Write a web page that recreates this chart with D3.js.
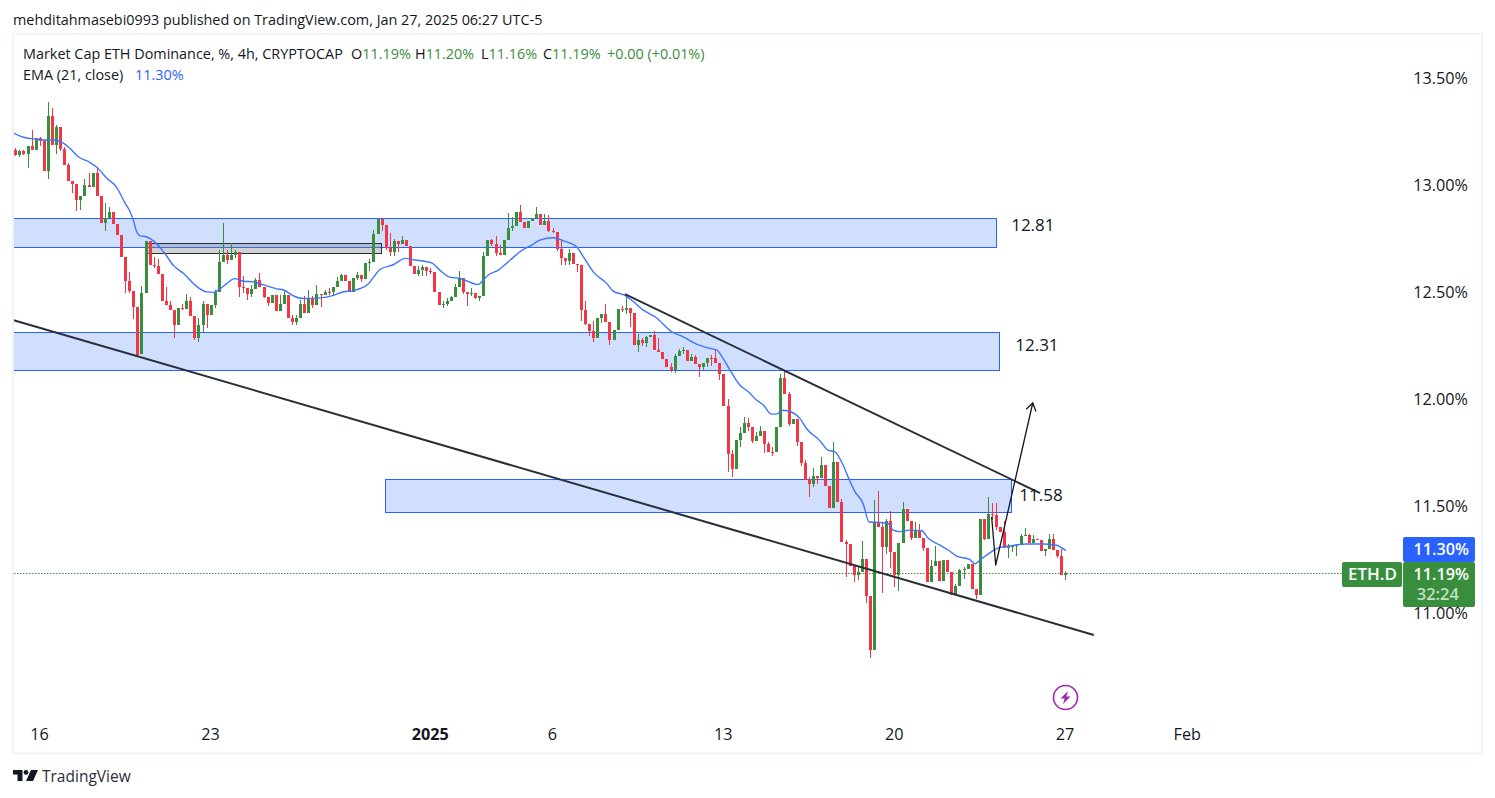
<!DOCTYPE html>
<html><head><meta charset="utf-8">
<script src="https://cdn.jsdelivr.net/npm/d3@7/dist/d3.min.js"></script>
<style>html,body{margin:0;padding:0;background:#fff}svg{display:block}text{font-family:"Open Sans",Roboto,sans-serif}</style>
</head><body><svg id="c" width="1495" height="798"></svg>
<script>
const n=null;
const opens=[13.169,13.145,13.162,13.150,13.187,13.169,13.225,13.212,13.070,13.327,
13.192,13.276,13.173,13.098,13.024,13.010,12.935,12.954,13.005,12.996,
13.061,12.954,12.827,12.851,12.879,12.823,12.771,12.668,12.556,12.510,
12.435,12.215,12.500,12.743,12.631,12.628,12.589,12.463,12.444,12.421,
12.349,12.430,12.426,12.463,12.393,12.288,12.351,12.449,12.397,12.444,
12.506,12.645,12.678,12.654,12.678,12.692,12.528,12.524,12.495,12.519,
12.561,12.528,12.481,12.453,12.491,12.416,12.449,12.491,12.383,12.365,
12.383,12.449,12.407,12.472,12.444,12.495,12.491,12.505,12.503,12.528,
12.556,12.584,12.556,12.505,12.570,12.584,12.565,12.640,12.646,12.775,
12.845,12.817,12.711,12.691,12.743,12.729,12.747,12.719,12.626,12.588,
12.607,12.621,12.602,12.600,12.504,12.444,12.448,12.462,12.481,12.528,
12.570,12.504,12.495,12.500,12.476,12.486,12.672,12.747,12.729,12.687,
12.677,12.747,12.803,12.813,12.878,12.831,12.803,12.836,12.850,12.869,
12.817,12.836,12.789,12.784,12.705,12.663,12.649,12.687,12.635,12.632,
12.420,12.355,12.322,12.289,12.383,12.401,12.364,12.280,12.327,12.425,
12.422,12.429,12.406,12.257,12.280,12.266,12.294,12.303,12.233,12.224,
12.191,12.154,12.140,12.205,12.228,12.233,12.182,12.200,12.168,12.154,
12.172,12.196,12.195,12.173,12.121,11.972,11.747,11.677,11.813,11.846,
11.892,11.874,11.808,11.832,11.855,11.794,11.757,11.755,11.874,12.103,
12.028,11.888,11.911,11.804,11.705,11.626,11.607,11.645,11.635,11.696,
11.598,11.495,11.710,11.523,11.336,11.327,11.224,11.182,11.196,11.257,
11.084,10.831,11.430,11.406,11.313,11.434,11.289,11.182,11.331,11.491,
11.434,11.355,11.388,11.355,11.308,11.150,11.224,11.247,11.154,11.252,
11.196,11.089,11.131,11.205,11.210,11.234,11.117,11.089,11.444,11.350,
11.467,11.462,11.406,11.383,11.310,11.316,11.319,11.324,11.364,11.369,
11.332,11.350,11.346,11.294,11.304,11.350,11.299,11.271,11.182];
const closes=[13.145,13.162,13.150,13.187,13.169,13.225,13.212,13.070,13.327,13.192,
13.276,13.173,13.098,13.024,13.010,12.935,12.954,13.005,12.996,13.061,
12.954,12.827,12.851,12.879,12.823,12.771,12.668,12.556,12.510,12.435,
12.210,12.500,12.743,12.631,12.628,12.589,12.463,12.444,12.421,12.351,
12.430,12.426,12.463,12.393,12.288,12.351,12.449,12.397,12.444,12.506,
12.645,12.678,12.654,12.678,12.692,12.528,12.524,12.495,12.519,12.561,
12.528,12.481,12.453,12.491,12.416,12.449,12.491,12.383,12.365,12.383,
12.449,12.407,12.472,12.444,12.495,12.491,12.505,12.503,12.528,12.556,
12.584,12.556,12.505,12.570,12.584,12.565,12.640,12.646,12.775,12.845,
12.817,12.711,12.691,12.743,12.729,12.747,12.719,12.626,12.588,12.607,
12.621,12.602,12.600,12.504,12.444,12.448,12.462,12.481,12.528,12.570,
12.504,12.495,12.500,12.476,12.486,12.672,12.747,12.729,12.687,12.677,
12.747,12.803,12.813,12.878,12.831,12.803,12.836,12.850,12.869,12.817,
12.836,12.789,12.784,12.705,12.663,12.649,12.687,12.635,12.632,12.420,
12.355,12.322,12.289,12.383,12.401,12.364,12.280,12.327,12.425,12.422,
12.429,12.406,12.257,12.280,12.266,12.294,12.303,12.233,12.224,12.191,
12.154,12.140,12.205,12.228,12.233,12.182,12.200,12.168,12.154,12.172,
12.196,12.195,12.173,12.121,11.972,11.747,11.677,11.813,11.846,11.892,
11.874,11.808,11.832,11.855,11.794,11.757,11.755,11.874,12.103,12.028,
11.888,11.911,11.804,11.705,11.626,11.607,11.645,11.635,11.696,11.598,
11.495,11.710,11.523,11.336,11.327,11.224,11.182,11.196,11.257,11.084,
10.831,11.430,11.406,11.313,11.434,11.289,11.182,11.331,11.491,11.434,
11.355,11.388,11.355,11.308,11.150,11.224,11.247,11.154,11.252,11.196,
11.089,11.131,11.205,11.210,11.234,11.117,11.089,11.444,11.350,11.467,
11.462,11.406,11.383,11.310,11.316,11.319,11.324,11.364,11.369,11.332,
11.350,11.346,11.294,11.304,11.350,11.299,11.271,11.182,11.190];
const highs=[13.176,13.169,13.169,n,13.262,n,13.231,13.215,13.393,13.365,
13.285,n,13.181,13.108,n,n,n,13.033,13.061,n,
13.089,n,12.921,12.902,n,n,n,n,12.598,n,
n,12.533,n,n,12.670,12.659,n,12.528,12.463,n,
n,12.449,12.496,12.481,n,12.383,12.463,n,n,12.514,
12.701,12.827,12.701,12.732,12.701,n,12.580,n,12.538,12.570,
12.594,n,n,n,n,12.491,12.514,n,12.397,12.397,
12.467,12.486,12.514,12.486,12.538,n,12.514,12.524,n,12.575,
12.589,n,n,n,12.598,n,n,12.658,12.794,n,
n,n,12.780,12.752,n,12.766,n,n,n,12.626,
12.630,n,12.616,n,n,12.462,12.476,12.486,12.542,12.602,
n,n,12.523,n,n,12.691,n,12.752,12.766,12.724,
n,12.873,12.855,n,12.911,n,n,n,12.902,n,
12.869,12.864,12.803,n,12.752,n,12.705,n,n,n,
12.462,n,12.369,n,n,12.448,n,n,n,12.439,
12.495,n,n,12.308,12.289,12.299,n,12.322,12.289,n,
n,12.172,12.214,12.238,12.247,n,12.214,12.210,n,n,
n,12.210,12.234,n,n,12.005,11.766,n,11.874,11.920,
11.916,n,11.850,11.878,n,11.804,11.780,n,12.121,12.140,
12.037,n,n,n,11.720,11.640,11.682,n,11.734,n,
n,11.804,n,11.537,11.345,n,n,11.219,11.341,n,
n,11.533,11.575,11.430,11.444,11.481,n,n,11.523,n,
n,11.428,11.420,n,n,11.252,11.318,n,n,n,
n,11.140,11.210,11.220,n,n,n,n,n,11.547,
11.519,11.517,n,11.434,11.327,n,11.327,11.374,11.402,11.374,
11.369,n,n,n,11.374,11.374,n,11.304,11.20];
const lows=[13.141,13.137,13.144,13.086,n,n,13.187,n,13.033,n,
13.150,13.162,n,n,12.968,12.883,12.888,n,n,n,
n,n,12.790,n,n,n,n,12.500,12.500,12.379,
12.199,n,n,n,12.615,n,n,n,n,12.290,
n,12.421,n,n,12.280,12.271,12.312,12.337,n,12.430,
n,n,12.636,n,12.665,12.481,12.500,12.467,12.481,n,
n,12.477,12.439,n,n,n,n,n,12.351,12.351,
n,n,n,12.430,n,12.435,n,12.491,12.491,n,
n,n,n,n,12.561,12.551,n,12.602,n,n,
12.789,12.701,12.672,12.672,12.691,n,n,n,n,12.579,
12.579,12.579,12.588,n,n,12.429,12.439,n,n,n,
12.495,12.439,12.486,12.472,12.462,n,n,12.719,12.672,n,
n,n,12.789,n,n,n,n,n,n,n,
n,12.785,12.780,12.696,12.630,12.630,12.630,n,12.598,12.369,
12.350,12.299,12.271,n,12.359,n,12.256,n,n,12.411,
12.401,12.341,n,12.224,12.252,12.247,n,n,n,n,
n,12.130,12.126,n,12.214,n,n,n,12.107,12.140,
12.154,12.160,n,12.093,n,11.663,11.640,n,11.780,n,
11.855,11.799,n,n,11.752,n,11.738,n,n,n,
11.878,n,11.785,11.691,n,11.546,11.593,11.607,n,n,
n,n,n,n,11.173,n,11.149,11.159,n,11.051,
10.794,n,n,11.098,11.280,11.215,11.126,11.107,n,n,
11.346,n,n,11.294,n,n,n,n,n,n,
n,n,n,11.163,n,n,11.070,n,11.346,n,
11.439,11.392,n,n,11.262,11.290,11.271,n,n,n,
n,n,n,11.271,n,n,11.262,n,11.16];
const emaBars=[-0.6,2,4.4,6.9,9.3,11.8,13.4,15.5,18.4,20,22.5,24.9,27,28.2,29,29.8,30.7,32.1,34.8,36.4,38.9,41.3,44.6,47,48.7,50.3,52,53.9,56.1,58.5,61,64.3,65.9,68.4,70.8,74.9,78.2,80.7,83,
84.7,86.7,88,89.6,92.9,95.8,98.2,102.3,104.3,106.8,109.3,113.8,115,116.2,118.7,121.6,124,126.9,128.9,132.2,134.7,137.9,139.6,142,145.3,146.9,149.8,151.9,154.3,157.2,161.3,164.1,167.4,170.7,
172.3,173.9,175.6,178,180.1,182.1,183.8,185.8,187,188.7,190.7,192.8,194.4,197.7,199.7,201.4,203.4,204.6,206.3,208.3,209.8,212.4,214.5,215.7,217.3,219.8,222.7,224.3,227.2,229.2,231.3,234.5,235.8,237,239,241.9,244.4,248.5,252.5,255.8,258.1];
const emaValues=[13.246,13.228,13.220,13.215,13.215,13.200,13.176,13.137,13.109,13.088,13.036,12.994,12.919,12.880,12.841,12.787,12.767,12.763,12.729,12.693,12.628,12.592,12.530,12.505,12.503,12.519,12.545,12.567,12.555,12.552,12.538,12.519,12.514,12.486,12.474,12.477,12.489,12.506,12.510,
12.521,12.542,12.573,12.610,12.632,12.662,12.654,12.641,12.607,12.574,12.568,12.540,12.560,12.584,12.607,12.654,12.693,12.724,12.747,12.758,12.744,12.716,12.669,12.599,12.545,12.509,12.489,12.459,12.420,12.389,12.319,12.295,12.261,12.241,
12.234,12.195,12.140,12.070,12.039,12.000,11.977,11.934,11.934,11.952,11.944,11.914,11.867,11.810,11.766,11.758,11.696,11.642,11.572,11.517,11.430,11.428,11.423,11.392,11.385,11.392,11.389,11.354,11.322,11.299,11.271,11.255,11.234,11.252,11.280,11.311,11.318,11.327,11.327,11.321,11.296];
const bandTops=[12.849,12.315,11.627];
const bandBottoms=[12.714,12.138,11.472];
const bandStarts=[-0.6,-0.6,91];
const bandEnds=[241.2,241.9,244.9];
const bandLabels=["12.81","12.31","11.58"];
const bandLabelBars=[244.7,245.7,246.7];
const greyBox={bars:[32.4,90],prices:[12.730,12.686]};
const lineA={bars:[-0.6,265],prices:[12.374,10.902]};
const lineB={bars:[149.8,251.8],prices:[12.495,11.565]};
const arrow={bars:[239.9,240.9,250],prices:[11.455,11.229,11.986]};
const priceTicks=[13.5,13,12.5,12,11.5,11];
const timeTickBars=[6,48,102,132,174,216,258,288];
const timeTickLabels=["16","23","2025","6","13","20","27","Feb"];
const GREEN="#388e3c",RED="#f23645",BLUE="#2962ff",INK="#131722";

const svg=d3.select("#c");
const x=d3.scaleLinear().domain([0,258]).range([15.3,1065.3]);
const y=d3.scaleLinear().domain([13.5,11]).range([79,614]);

// bands
const bands=d3.range(3);
svg.append("g").selectAll("rect").data(bands).join("rect")
 .attr("x",i=>x(bandStarts[i])).attr("width",i=>x(bandEnds[i])-x(bandStarts[i]))
 .attr("y",i=>y(bandTops[i])).attr("height",i=>y(bandBottoms[i])-y(bandTops[i]))
 .attr("fill","#d1dffe").attr("stroke",BLUE).attr("stroke-width",1).attr("shape-rendering","crispEdges");
svg.append("rect").attr("x",x(greyBox.bars[0])).attr("width",x(greyBox.bars[1])-x(greyBox.bars[0]))
 .attr("y",y(greyBox.prices[0])).attr("height",y(greyBox.prices[1])-y(greyBox.prices[0]))
 .attr("fill","#787b86").attr("fill-opacity",.35).attr("stroke","#2a2e39").attr("stroke-width",1).attr("shape-rendering","crispEdges");

// last-price line
svg.append("line").attr("x1",14).attr("x2",1342).attr("y1",Math.round(y(11.19))+.5).attr("y2",Math.round(y(11.19))+.5)
 .attr("stroke",GREEN).attr("stroke-width",1.2).attr("stroke-dasharray","1.5 1.5");

// candles
const bars=d3.range(closes.length);
const col=i=>closes[i]>=opens[i]?GREEN:RED;
const cx=i=>Math.round(x(i));
const g=svg.append("g").attr("shape-rendering","crispEdges");
g.selectAll(".w").data(bars).join("rect").attr("class","w")
 .attr("x",i=>cx(i)).attr("width",1)
 .attr("y",i=>y(highs[i]??Math.max(opens[i],closes[i])))
 .attr("height",i=>y(lows[i]??Math.min(opens[i],closes[i]))-y(highs[i]??Math.max(opens[i],closes[i])))
 .attr("fill",col);
g.selectAll(".b").data(bars).join("rect").attr("class","b")
 .attr("x",i=>cx(i)-1).attr("width",3)
 .attr("y",i=>y(Math.max(opens[i],closes[i])))
 .attr("height",i=>Math.max(1,y(Math.min(opens[i],closes[i]))-y(Math.max(opens[i],closes[i]))))
 .attr("fill",col);

// EMA
svg.append("path").datum(d3.range(emaBars.length))
 .attr("d",d3.line().x(i=>Math.max(14,x(emaBars[i]))).y(i=>y(emaValues[i])).curve(d3.curveMonotoneX))
 .attr("fill","none").attr("stroke","#3f74ff").attr("stroke-width",1.4);

// drawings
const trend=d3.line().x(d=>x(d[0])).y(d=>y(d[1]));
[lineA,lineB].forEach(l=>svg.append("path").attr("d",trend(d3.zip(l.bars,l.prices)))
 .attr("fill","none").attr("stroke","#2a2e39").attr("stroke-width",2));
svg.append("path").attr("d",trend(d3.zip(arrow.bars,arrow.prices)))
 .attr("fill","none").attr("stroke","#131722").attr("stroke-width",1.3).attr("stroke-linejoin","round");
const tip=[x(arrow.bars[2]),y(arrow.prices[2])],prev=[x(arrow.bars[1]),y(arrow.prices[1])];
const ang=Math.atan2(tip[1]-prev[1],tip[0]-prev[0]);
svg.append("path").attr("d",d3.line()([[tip[0]+9*Math.cos(ang+2.55),tip[1]+9*Math.sin(ang+2.55)],tip,[tip[0]+9*Math.cos(ang-2.55),tip[1]+9*Math.sin(ang-2.55)]]))
 .attr("fill","none").attr("stroke","#131722").attr("stroke-width",1.3);
svg.append("g").selectAll("text").data(bands).join("text")
 .attr("x",i=>x(bandLabelBars[i])).attr("y",i=>[225,345,495][i]).attr("dy","0.35em")
 .attr("font-size",17).attr("fill",INK).text(i=>bandLabels[i]);

// frame on top of the band edges
svg.append("rect").attr("x",13).attr("y",34).attr("width",1469).attr("height",719.5).attr("fill","none").attr("stroke","#f0f3fa").attr("stroke-width",2);

// axes
const ax=svg.append("g").call(
 d3.axisRight(y).tickValues(priceTicks).tickSize(0).tickPadding(0).tickFormat(d=>d.toFixed(2)+"%"));
ax.select(".domain").remove();
ax.selectAll("text").attr("x",1468).attr("text-anchor","end").attr("font-size",16.2).attr("fill",INK).attr("dy","0.28em").style("font-family",'"Open Sans"');
const bx=svg.append("g").attr("transform","translate(-0.7,734)").call(
 d3.axisBottom(x).tickValues(timeTickBars).tickSize(0).tickPadding(0).tickFormat((d,i)=>timeTickLabels[i]));
bx.select(".domain").remove();
bx.selectAll("text").attr("y",0).attr("dy","0.35em").attr("font-size",16.2).attr("fill",INK).style("font-family",'"Open Sans"')
 .attr("font-weight",(d,i)=>timeTickLabels[i]==="2025"?700:400);

// price tags
function tag(xp,yp,w,h,fill){svg.append("rect").attr("x",xp).attr("y",yp).attr("width",w).attr("height",h).attr("rx",2).attr("fill",fill);}
function tagText(xp,yp,t,fill,anchor,size){svg.append("text").attr("x",xp).attr("y",yp).attr("dy","0.35em").attr("text-anchor",anchor).attr("font-size",size||16.2).attr("font-weight",600).attr("fill",fill).text(t);}
tag(1403,537,72,25,BLUE);
tag(1403,562,72,45,GREEN);
tag(1342,562,60,25,GREEN);
tagText(1469,549.5,"11.30%","#fff","end");
tagText(1469,574.5,"11.19%","#fff","end");
tagText(1459,594.5,"32:24","#c4dfc6","end",16.5);
tagText(1372.5,574.5,"ETH.D","#fff","middle",17);

// lightning mark
const bolt=svg.append("g").attr("transform","translate(1065.5,697.5)");
bolt.append("circle").attr("r",12).attr("fill","#fff").attr("stroke","#9c27b0").attr("stroke-width",1.6);
bolt.append("path").attr("d","M2.5,-6.5 L-5,1 L-0.8,1 L-2.5,6.5 L5,-1 L0.8,-1 Z").attr("fill","#9c27b0");

// header
const T=(xp,yp,t,fill,size)=>svg.append("text").attr("x",xp).attr("y",yp).attr("dy","0.35em").attr("font-size",size||14.4).attr("fill",fill).text(t);
T(13,20,"mehditahmasebi0993 published on TradingView.com, Jan 27, 2025 06:27 UTC-5",INK);
T(23,54,"Market Cap ETH Dominance, %, 4h, CRYPTOCAP",INK);
const ohlcLetters=["O","H","L","C"],ohlcVals=["11.19%","11.20%","11.16%","11.19%"],ohlcX=[351,415,481,543];
ohlcLetters.forEach((l,i)=>{const t=T(ohlcX[i],54,l,INK);t.append("tspan").attr("fill",GREEN).text(ohlcVals[i]);});
T(607,54,"+0.00 (+0.01%)",GREEN);
T(23,75,"EMA (21, close)",INK);
T(135,75,"11.30%",BLUE);

// logo
const lg=svg.append("g").attr("transform","translate(13,770)").attr("fill","#131722");
lg.append("path").attr("d","M0,0 H9.5 V11 H4.5 V4.5 H0 Z");
lg.append("circle").attr("cx",13).attr("cy",2.4).attr("r",2.4);
lg.append("path").attr("d","M18,0 H25 L20,11 H13 Z");
T(42,777,"TradingView","#2a2e39",15.5);
</script></body></html>
